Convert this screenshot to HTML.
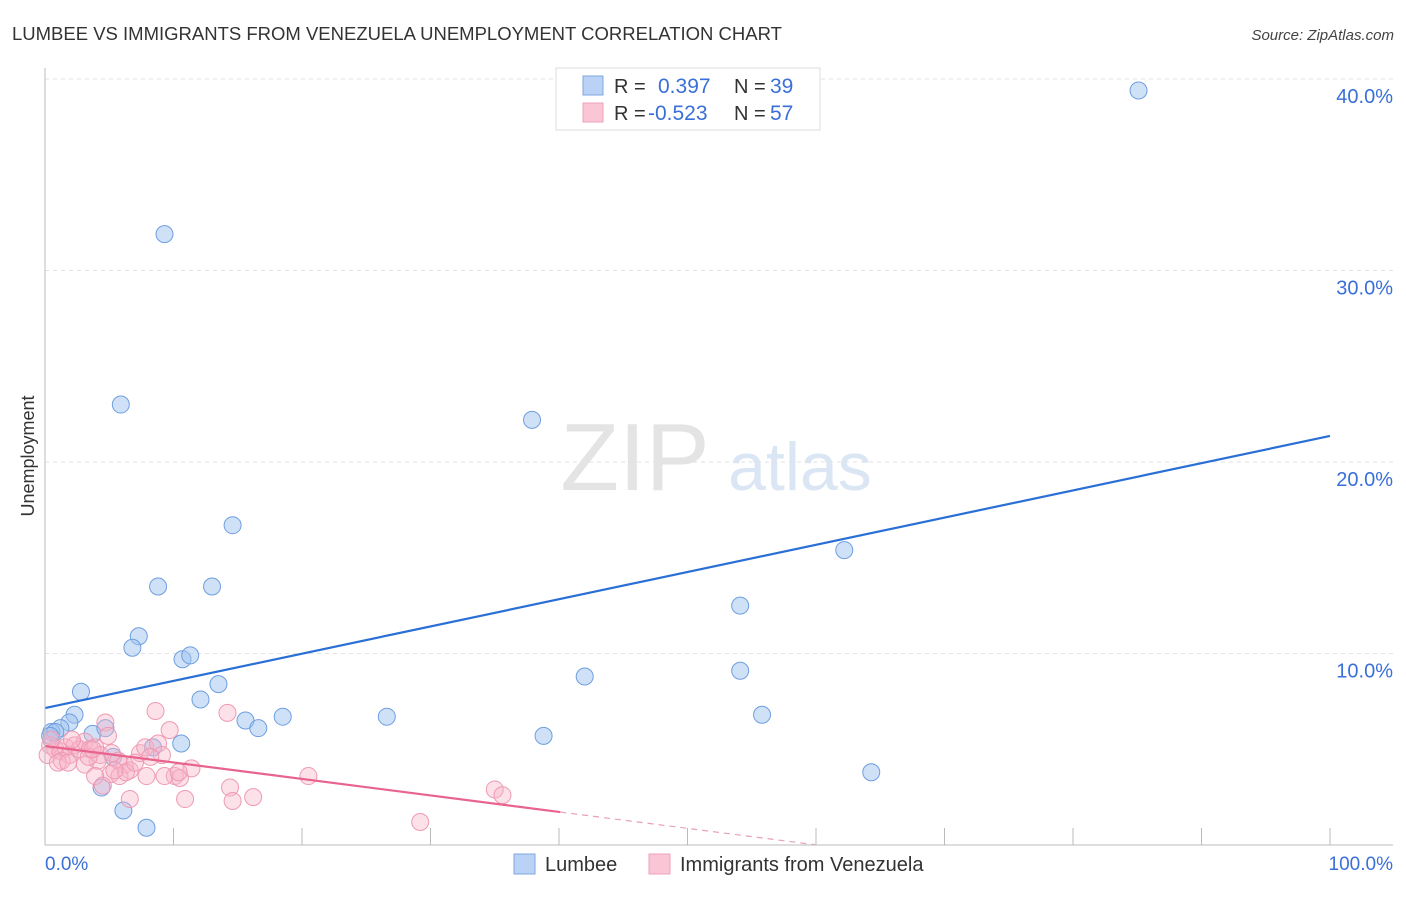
<!DOCTYPE html>
<html><head><meta charset="utf-8"><style>
body{margin:0;background:#fff;font-family:"Liberation Sans",sans-serif}
svg text{font-family:"Liberation Sans",sans-serif}
</style></head><body>
<svg width="1406" height="892" id="chart">
<text x="12" y="40" font-size="18.5" fill="#333">LUMBEE VS IMMIGRANTS FROM VENEZUELA UNEMPLOYMENT CORRELATION CHART</text>
<text x="1394" y="40" font-size="15" fill="#444" text-anchor="end" font-style="italic">Source: ZipAtlas.com</text>
<text x="635" y="490" font-size="96" fill="#e4e4e4" font-family="Liberation Serif" text-anchor="middle">ZIP</text>
<text x="800" y="490" font-size="68" fill="#dbe6f5" text-anchor="middle">atlas</text>
<text transform="translate(34,456) rotate(-90)" font-size="18" fill="#333" text-anchor="middle">Unemployment</text>
<g id="grid"></g><g id="pts"></g><g id="lines"></g>
<line x1="45" y1="68" x2="45" y2="845" stroke="#bbb"/>
<line x1="45" y1="845" x2="1393" y2="845" stroke="#bbb"/>
<text x="45" y="870" font-size="19" fill="#3a6fd8">0.0%</text>
<text x="1393" y="870" font-size="19" fill="#3a6fd8" text-anchor="end">100.0%</text>
<rect x="556" y="68" width="264" height="62" fill="#fff" stroke="#ddd"/>
<rect x="583" y="76" width="20" height="19" fill="#b9d2f5" stroke="#7fa6e0"/>
<rect x="583" y="103" width="20" height="19" fill="#fac6d6" stroke="#eea0b8"/>
<text font-size="20" fill="#333"><tspan x="614" y="93">R = </tspan><tspan x="658" fill="#3a6fd8" font-size="21">0.397</tspan><tspan x="734">N = </tspan><tspan x="770" fill="#3a6fd8" font-size="21">39</tspan></text>
<text font-size="20" fill="#333"><tspan x="614" y="120">R = </tspan><tspan x="648" fill="#3a6fd8" font-size="21">-0.523</tspan><tspan x="734">N = </tspan><tspan x="770" fill="#3a6fd8" font-size="21">57</tspan></text>
<rect x="514" y="854" width="21" height="20" fill="#b9d2f5" stroke="#7fa6e0"/>
<text x="545" y="871" font-size="20" fill="#333">Lumbee</text>
<rect x="649" y="854" width="21" height="20" fill="#fac6d6" stroke="#eea0b8"/>
<text x="680" y="871" font-size="20" fill="#333">Immigrants from Venezuela</text>
</svg>
<script>
const yTicks=[10,20,30,40];
const xTickVals=[10,20,30,40,50,60,70,80,90,100];
const blueX=[85.1,9.3,5.9,37.9,14.6,62.2,8.8,13.0,54.1,7.3,6.8,10.7,11.3,54.1,42.0,13.5,2.8,12.1,2.3,15.6,18.5,26.6,55.8,1.9,1.2,0.5,0.8,16.6,3.7,4.7,38.8,10.6,8.4,5.3,64.3,4.4,6.1,7.9,0.4];
const blueY=[39.4,31.9,23.0,22.2,16.7,15.4,13.5,13.5,12.5,10.9,10.3,9.7,9.9,9.1,8.8,8.4,8.0,7.6,6.8,6.5,6.7,6.7,6.8,6.4,6.1,5.9,5.9,6.1,5.8,6.1,5.7,5.3,5.1,4.6,3.8,3.0,1.8,0.9,5.7];
const pinkX=[0.4,0.8,0.2,1.2,1.6,1.9,2.3,2.7,3.1,3.5,3.9,4.3,4.7,4.9,5.2,5.7,6.2,6.6,7.4,7.8,8.6,8.8,9.1,9.7,10.1,10.5,10.9,11.4,14.2,14.4,14.6,16.2,20.5,29.2,35.0,35.6,4.1,1.3,3.1,5.1,5.8,6.3,7.9,9.3,10.4,3.9,4.5,6.6,2.1,0.5,1.0,3.4,5.4,1.8,8.2,7.0,3.7];
const pinkY=[5.2,5.0,4.7,4.9,5.1,4.7,5.2,5.0,5.4,5.0,5.1,4.7,6.4,5.7,4.8,4.4,4.2,3.9,4.8,5.1,7.0,5.3,4.7,6.0,3.6,3.5,2.4,4.0,6.9,3.0,2.3,2.5,3.6,1.2,2.9,2.6,4.4,4.4,4.2,3.7,3.6,3.8,3.6,3.6,3.8,3.6,3.1,2.4,5.5,5.5,4.3,4.6,3.9,4.3,4.6,4.3,5.0];
const blueTrend=[7.15,21.36];
const pinkTrend=[5.17,1.72,40.1,60];
const NS='http://www.w3.org/2000/svg';
const X=v=>45+v*12.85, Y=v=>845-v*19.15;
function mk(tag,attrs,parent){const e=document.createElementNS(NS,tag);for(const k in attrs)e.setAttribute(k,attrs[k]);document.getElementById(parent).appendChild(e);return e;}
yTicks.forEach(t=>{
 const l=mk('line',{x1:45,x2:1393,y1:Y(t),y2:Y(t),stroke:'#e2e2e2','stroke-dasharray':'4,4'},'grid');
 
 
 const tx=mk('text',{x:1393,y:Y(t)+24,'font-size':20,fill:'#3a6fd8','text-anchor':'end'},'grid');
 tx.textContent=t.toFixed(1)+'%';
 
 
});
xTickVals.forEach(t=>{
 const l=mk('line',{x1:X(t),x2:X(t),y1:828,y2:845,stroke:'#bbb'},'grid');
 
 
});
blueX.forEach((v,i)=>{
 const c=mk('circle',{cx:X(v),cy:Y(blueY[i]),r:8.5,fill:'rgba(160,195,240,0.5)',stroke:'#6f9ee0','stroke-width':1},'pts');
 
 
});
pinkX.forEach((v,i)=>{
 const c=mk('circle',{cx:X(v),cy:Y(pinkY[i]),r:8.5,fill:'rgba(248,180,200,0.4)',stroke:'#ee9ab4','stroke-width':1},'pts');
 
 
});
let l1=mk('line',{x1:X(0),y1:Y(blueTrend[0]),x2:X(100),y2:Y(blueTrend[1]),stroke:'#2a6fd6','stroke-width':2.2},'lines');


const slope=(pinkTrend[1]-pinkTrend[0])/pinkTrend[2];
let l2=mk('line',{x1:X(0),y1:Y(pinkTrend[0]),x2:X(pinkTrend[2]),y2:Y(pinkTrend[1]),stroke:'#e8638e','stroke-width':2.2},'lines');


let l3=mk('line',{x1:X(pinkTrend[2]),y1:Y(pinkTrend[1]),x2:X(pinkTrend[3]),y2:Y(pinkTrend[0]+slope*pinkTrend[3]),stroke:'#e8a0b8','stroke-width':1.2,'stroke-dasharray':'6,5'},'lines');


</script>
</body></html>
